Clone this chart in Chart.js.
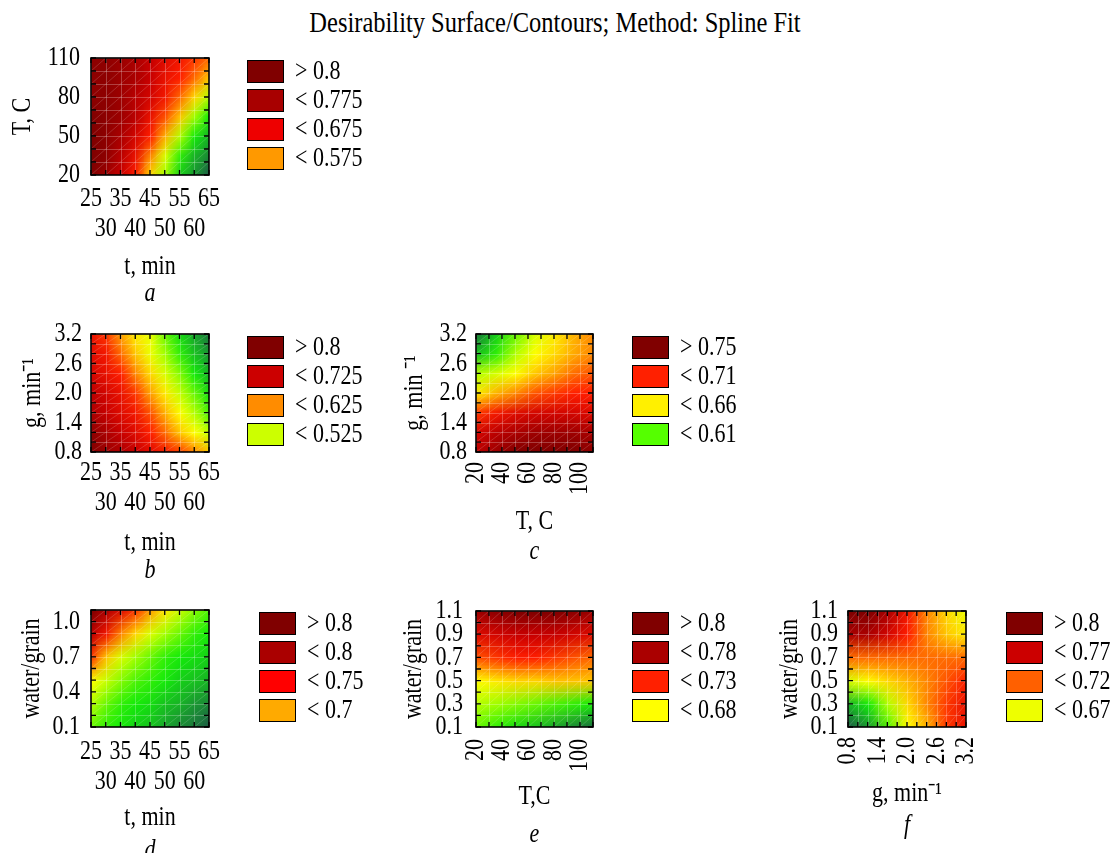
<!DOCTYPE html>
<html>
<head>
<meta charset="utf-8">
<title>Desirability Surface/Contours</title>
<script src="https://cdn.jsdelivr.net/npm/chart.js@4.4.1/dist/chart.umd.min.js"></script>
<style>
  html, body { margin: 0; padding: 0; background: #fff; }
  body { width: 1119px; height: 853px; position: relative; overflow: hidden; font-family: 'Liberation Serif', 'Times New Roman', serif; }
  #title { position: absolute; left: 0; width: 1110px; top: 10px; text-align: center; font-size: 24.5px; line-height: 1; color: #000; transform: scaleY(1.22); }
  canvas { position: absolute; }
</style>
</head>
<body>
<div id="title">Desirability Surface/Contours; Method: Spline Fit</div>
<canvas id="pa"></canvas>
<canvas id="pb"></canvas>
<canvas id="pc"></canvas>
<canvas id="pd"></canvas>
<canvas id="pe"></canvas>
<canvas id="pf"></canvas>
<script>
// grid of factor levels the surfaces were read at
const tMin = [25, 30, 35, 40, 45, 50, 55, 60, 65];
const tempC = [20, 35, 50, 65, 80, 95, 110];
const gRate = [0.8, 1.2, 1.6, 2.0, 2.4, 2.8, 3.2];
const waterGrain = [0.1, 0.3, 0.5, 0.7, 0.9, 1.1];

// desirability, rows from the top of the plot (highest y) down
const surfA = [ // t x T
  [0.79, 0.79, 0.78, 0.77, 0.75, 0.73, 0.71, 0.69, 0.67],
  [0.79, 0.79, 0.78, 0.77, 0.75, 0.72, 0.70, 0.67, 0.63],
  [0.79, 0.79, 0.78, 0.76, 0.74, 0.71, 0.67, 0.62, 0.56],
  [0.80, 0.79, 0.78, 0.76, 0.72, 0.68, 0.63, 0.55, 0.50],
  [0.80, 0.79, 0.77, 0.74, 0.70, 0.64, 0.56, 0.50, 0.46],
  [0.80, 0.79, 0.76, 0.72, 0.66, 0.58, 0.51, 0.46, 0.43],
  [0.80, 0.78, 0.75, 0.70, 0.62, 0.55, 0.48, 0.44, 0.40]
];
const surfB = [ // t x g
  [0.72, 0.69, 0.65, 0.61, 0.59, 0.53, 0.49, 0.45, 0.42],
  [0.73, 0.71, 0.67, 0.63, 0.59, 0.55, 0.51, 0.47, 0.44],
  [0.74, 0.72, 0.70, 0.66, 0.62, 0.58, 0.54, 0.50, 0.46],
  [0.76, 0.74, 0.72, 0.69, 0.65, 0.61, 0.57, 0.53, 0.49],
  [0.77, 0.75, 0.73, 0.71, 0.68, 0.64, 0.60, 0.56, 0.52],
  [0.79, 0.77, 0.75, 0.73, 0.70, 0.67, 0.63, 0.60, 0.57],
  [0.80, 0.78, 0.77, 0.75, 0.73, 0.71, 0.69, 0.66, 0.63]
];
const surfC = [ // T x g
  [0.42, 0.48, 0.53, 0.58, 0.61, 0.64, 0.66],
  [0.47, 0.51, 0.56, 0.60, 0.62, 0.645, 0.66],
  [0.56, 0.58, 0.60, 0.63, 0.65, 0.67, 0.68],
  [0.61, 0.64, 0.66, 0.68, 0.69, 0.70, 0.70],
  [0.69, 0.71, 0.73, 0.74, 0.74, 0.74, 0.73],
  [0.74, 0.76, 0.77, 0.78, 0.78, 0.78, 0.77],
  [0.76, 0.78, 0.80, 0.81, 0.81, 0.80, 0.79]
];
const surfD = [ // t x water/grain
  [0.80, 0.77, 0.73, 0.69, 0.65, 0.61, 0.57, 0.54, 0.52],
  [0.76, 0.71, 0.66, 0.62, 0.58, 0.55, 0.53, 0.51, 0.50],
  [0.69, 0.63, 0.58, 0.55, 0.53, 0.51, 0.50, 0.49, 0.48],
  [0.60, 0.57, 0.54, 0.52, 0.51, 0.50, 0.48, 0.47, 0.46],
  [0.56, 0.53, 0.51, 0.50, 0.49, 0.47, 0.46, 0.44, 0.43],
  [0.53, 0.51, 0.50, 0.48, 0.47, 0.45, 0.43, 0.42, 0.40]
];
const surfE = [ // T x water/grain
  [0.78, 0.79, 0.80, 0.80, 0.80, 0.79, 0.78],
  [0.73, 0.74, 0.75, 0.75, 0.75, 0.74, 0.73],
  [0.68, 0.69, 0.70, 0.70, 0.69, 0.68, 0.67],
  [0.60, 0.61, 0.62, 0.62, 0.63, 0.63, 0.63],
  [0.56, 0.55, 0.54, 0.53, 0.52, 0.51, 0.50],
  [0.53, 0.51, 0.49, 0.47, 0.45, 0.43, 0.41]
];
const surfF = [ // g x water/grain
  [0.81, 0.80, 0.77, 0.71, 0.66, 0.62, 0.59],
  [0.77, 0.77, 0.74, 0.70, 0.66, 0.63, 0.61],
  [0.67, 0.67, 0.67, 0.67, 0.67, 0.67, 0.67],
  [0.58, 0.60, 0.62, 0.64, 0.66, 0.68, 0.70],
  [0.46, 0.50, 0.56, 0.62, 0.66, 0.69, 0.72],
  [0.40, 0.44, 0.52, 0.60, 0.64, 0.69, 0.72]
];

// tick labels
const tTicks = ['25', '30', '35', '40', '45', '50', '55', '60', '65'];
const tempTicksY = ['20', '50', '80', '110'];
const tempTicksX = ['20', '40', '60', '80', '100'];
const gTicks = ['0.8', '1.4', '2.0', '2.6', '3.2'];
const wgTicks4 = ['0.1', '0.4', '0.7', '1.0'];
const wgTicks6 = ['0.1', '0.3', '0.5', '0.7', '0.9', '1.1'];

// legend levels
const legendA = ['> 0.8', '< 0.775', '< 0.675', '< 0.575'];
const legendB = ['> 0.8', '< 0.725', '< 0.625', '< 0.525'];
const legendC = ['> 0.75', '< 0.71', '< 0.66', '< 0.61'];
const legendD = ['> 0.8', '< 0.8', '< 0.75', '< 0.7'];
const legendE = ['> 0.8', '< 0.78', '< 0.73', '< 0.68'];
const legendF = ['> 0.8', '< 0.77', '< 0.72', '< 0.67'];

const SERIF = "'Liberation Serif', 'Times New Roman', Times, serif";
Chart.defaults.font.family = SERIF;
Chart.defaults.font.size = 22;
Chart.defaults.color = '#000';

// the original uses a tall narrow serif, fake it by stretching glyphs vertically
const TEXT_STRETCH = 1.25;

// colour ramp, desirability -> rgb
const RAMP = [
  [0.40, [30, 90, 70]],
  [0.45, [25, 165, 45]],
  [0.50, [20, 235, 10]],
  [0.55, [160, 255, 0]],
  [0.60, [255, 255, 0]],
  [0.65, [255, 160, 0]],
  [0.70, [255, 30, 0]],
  [0.75, [200, 0, 0]],
  [0.80, [128, 0, 0]]
];
function rampColor(v) {
  if (v <= RAMP[0][0]) return RAMP[0][1];
  for (let i = 1; i < RAMP.length; i++) {
    if (v <= RAMP[i][0]) {
      const [v0, c0] = RAMP[i - 1], [v1, c1] = RAMP[i];
      const f = (v - v0) / (v1 - v0);
      return c0.map((c, k) => Math.round(c + (c1[k] - c) * f));
    }
  }
  return RAMP[RAMP.length - 1][1];
}

const panels = [
  { id: 'pa', xs: tMin, ys: tempC, grid: surfA, xTicks: tTicks, yTicks: tempTicksY,
    xTitle: 't, min', yTitle: 'T, C', letter: 'a', legend: legendA,
    colors: ['#800000', '#a80000', '#ee0000', '#ff9900'],
    box: [91, 58, 209, 175], canvasLeft: 0, legendLeft: 247, legendTop: 60, stagger: true,
    xMinor: 5, yMinor: 10, xTickPad: 9.5, yTickPad: 11, yTitlePad: 9.4, xTitleY: 267, letterY: 293 },
  { id: 'pb', xs: tMin, ys: gRate, grid: surfB, xTicks: tTicks, yTicks: gTicks,
    xTitle: 't, min', yTitle: 'g, min\u207B\u00B9', letter: 'b', legend: legendB,
    colors: ['#800000', '#cc0000', '#ff8c00', '#ccff00'],
    box: [91, 334, 209, 452], canvasLeft: 0, legendLeft: 247, legendTop: 336, stagger: true,
    xMinor: 5, yMinor: 0.2, xTickPad: 6.5, yTickPad: 9, yTitlePad: 19.4, xTitleY: 543, letterY: 571 },
  { id: 'pc', xs: tempC, ys: gRate, grid: surfC, xTicks: tempTicksX, yTicks: gTicks,
    xTitle: 'T, C', yTitle: 'g, min \u207B\u00B9', letter: 'c', legend: legendC,
    colors: ['#800000', '#ff2000', '#fff000', '#55ff00'],
    box: [476, 334, 593, 452], canvasLeft: 380, legendLeft: 632, legendTop: 336, rotateX: true,
    xMinor: 10, yMinor: 0.2, xTickPad: 10, yTickPad: 9, yTitlePad: 22, xTitleY: 522, letterY: 552 },
  { id: 'pd', xs: tMin, ys: waterGrain, grid: surfD, xTicks: tTicks, yTicks: wgTicks4,
    xTitle: 't, min', yTitle: 'water/grain', letter: 'd', legend: legendD,
    colors: ['#800000', '#aa0000', '#ff0000', '#ffaa00'],
    box: [91, 610, 209, 727], canvasLeft: 0, legendLeft: 259, legendTop: 612, stagger: true,
    xMinor: 5, yMinor: 0.1, xTickPad: 10.5, yTickPad: 11, yTitlePad: 18.7, xTitleY: 818, letterY: 851 },
  { id: 'pe', xs: tempC, ys: waterGrain, grid: surfE, xTicks: tempTicksX, yTicks: wgTicks6,
    xTitle: 'T,C', yTitle: 'water/grain', letter: 'e', legend: legendE,
    colors: ['#800000', '#aa0000', '#ff2000', '#ffff00'],
    box: [476, 611, 593, 727], canvasLeft: 380, legendLeft: 632, legendTop: 612, rotateX: true,
    xMinor: 10, yMinor: 0.1, xTickPad: 12, yTickPad: 13, yTitlePad: 21, xTitleY: 797, letterY: 835 },
  { id: 'pf', xs: gRate, ys: waterGrain, grid: surfF, xTicks: gTicks, yTicks: wgTicks6,
    xTitle: 'g, min\u207B\u00B9', yTitle: 'water/grain', letter: 'f', legend: legendF,
    colors: ['#800000', '#cc0000', '#ff6000', '#eeff00'],
    box: [848, 611, 966, 727], canvasLeft: 760, legendLeft: 1006, legendTop: 612, rotateX: true,
    xMinor: 0.2, yMinor: 0.1, xTickPad: 10, yTickPad: 10, yTitlePad: 17, xTitleY: 794, letterY: 826 }
];

function steps(min, max, step) {
  const out = [];
  for (let k = 0; min + k * step <= max + 1e-9; k++) out.push(min + k * step);
  return out;
}

// paints the surface grid, the inner frame / tick marks and the level legend
function surfacePlugin(p, canvasTop) {
  return {
    id: 'surface',
    beforeDatasetsDraw(chart) {
      const { ctx, chartArea: a, scales: { x, y } } = chart;
      const nx = p.xs.length, ny = p.ys.length;
      const off = document.createElement('canvas');
      off.width = nx;
      off.height = ny;
      const octx = off.getContext('2d');
      const img = octx.createImageData(nx, ny);
      for (let j = 0; j < ny; j++) {
        for (let i = 0; i < nx; i++) {
          const c = rampColor(p.grid[j][i]);
          const k = (j * nx + i) * 4;
          img.data[k] = c[0]; img.data[k + 1] = c[1]; img.data[k + 2] = c[2]; img.data[k + 3] = 255;
        }
      }
      octx.putImageData(img, 0, 0);
      const x0 = x.getPixelForValue(p.xs[0]);
      const x1 = x.getPixelForValue(p.xs[nx - 1]);
      const yTop = y.getPixelForValue(p.ys[ny - 1]);
      const yBot = y.getPixelForValue(p.ys[0]);
      const cw = (x1 - x0) / (nx - 1), ch = (yBot - yTop) / (ny - 1);
      ctx.save();
      ctx.beginPath();
      ctx.rect(a.left, a.top, a.width, a.height);
      ctx.clip();
      ctx.imageSmoothingEnabled = true;
      ctx.drawImage(off, x0 - cw / 2, yTop - ch / 2, cw * nx, ch * ny);
      // faint mesh like the original surface plot
      const xs = steps(x.min, x.max, p.xMinor).map(v => x.getPixelForValue(v));
      const ys = steps(y.min, y.max, p.yMinor).map(v => y.getPixelForValue(v));
      ctx.strokeStyle = 'rgba(255,255,255,0.25)';
      ctx.lineWidth = 1;
      ctx.beginPath();
      xs.forEach(px => { const q = Math.round(px) + 0.5; ctx.moveTo(q, a.top); ctx.lineTo(q, a.bottom); });
      ys.forEach(py => { const q = Math.round(py) + 0.5; ctx.moveTo(a.left, q); ctx.lineTo(a.right, q); });
      ctx.stroke();
      ctx.strokeStyle = 'rgba(255,255,255,0.16)';
      ctx.beginPath();
      for (let i = 0; i < xs.length - 1; i++) {
        for (let j = 0; j < ys.length - 1; j++) {
          ctx.moveTo(xs[i], ys[j]);
          ctx.lineTo(xs[i + 1], ys[j + 1]);
        }
      }
      ctx.stroke();
      ctx.restore();
    },
    afterDatasetsDraw(chart) {
      const { ctx, chartArea: a, scales: { x, y } } = chart;
      const len = 5;
      ctx.save();
      ctx.strokeStyle = '#000';
      ctx.lineWidth = 1.3;
      ctx.beginPath();
      steps(x.min, x.max, p.xMinor).forEach(v => {
        const px = x.getPixelForValue(v);
        ctx.moveTo(px, a.bottom); ctx.lineTo(px, a.bottom - len);
        ctx.moveTo(px, a.top); ctx.lineTo(px, a.top + len);
      });
      steps(y.min, y.max, p.yMinor).forEach(v => {
        const py = y.getPixelForValue(v);
        ctx.moveTo(a.left, py); ctx.lineTo(a.left + len, py);
        ctx.moveTo(a.right, py); ctx.lineTo(a.right - len, py);
      });
      ctx.stroke();
      ctx.lineWidth = 1.6;
      ctx.strokeRect(a.left, a.top, a.width, a.height);
      ctx.restore();
    },
    afterDraw(chart) {
      // legend: four level boxes to the right of the plot
      const ctx = chart.ctx;
      const bx = p.legendLeft - p.canvasLeft;
      ctx.save();
      ctx.font = '22px ' + SERIF;
      ctx.textBaseline = 'middle';
      ctx.textAlign = 'left';
      p.legend.forEach((txt, i) => {
        const by = p.legendTop - canvasTop + i * 29;
        ctx.fillStyle = p.colors[i];
        ctx.fillRect(bx, by, 37, 23);
        ctx.strokeStyle = '#000';
        ctx.lineWidth = 1;
        ctx.strokeRect(bx + 0.5, by + 0.5, 36, 22);
        ctx.fillStyle = '#000';
        ctx.fillText(txt, bx + 48, by + 12);
      });
      ctx.restore();
    }
  };
}

const PAD_TOP = 30;
const PAD_RIGHT = 180;
const LH = 22 * 1.2;

panels.forEach(p => {
  const [L, T, R, B] = p.box;
  const yW = L - p.canvasLeft;
  const xH = p.xTitleY - B + LH / 2;
  const letterPad = Math.max(0, p.letterY - p.xTitleY - LH);
  const need = PAD_TOP + (B - T) + xH + letterPad + LH;
  const H = Math.ceil(need) + 2;
  const W = Math.round(R - p.canvasLeft + PAD_RIGHT);
  const canvasTop = T - PAD_TOP;

  const canvas = document.getElementById(p.id);
  canvas.width = W;
  canvas.height = H;
  canvas.style.width = W + 'px';
  canvas.style.height = H + 'px';
  canvas.style.left = p.canvasLeft + 'px';
  canvas.style.top = canvasTop + 'px';

  const ctx = canvas.getContext('2d');
  const rawFill = ctx.fillText;
  ctx.fillText = function (text, x, y, maxWidth) {
    this.save();
    this.translate(x, y);
    this.scale(1, TEXT_STRETCH);
    if (maxWidth === undefined) rawFill.call(this, text, 0, 0);
    else rawFill.call(this, text, 0, 0, maxWidth);
    this.restore();
  };

  const points = [];
  p.ys.forEach((yv, j) => p.xs.forEach((xv, i) => {
    points.push({ x: xv, y: yv, v: p.grid[p.ys.length - 1 - j][i] });
  }));

  new Chart(canvas, {
    type: 'scatter',
    data: { datasets: [{ label: 'desirability', data: points, pointRadius: 0, pointHoverRadius: 0 }] },
    options: {
      responsive: false,
      animation: false,
      events: [],
      layout: { padding: { left: 0, top: PAD_TOP, right: PAD_RIGHT, bottom: H - need } },
      scales: {
        x: {
          type: 'linear',
          min: p.xs[0],
          max: p.xs[p.xs.length - 1],
          afterBuildTicks: s => { s.ticks = p.xTicks.map(t => ({ value: Number(t) })); },
          afterFit: s => { s.height = xH; },
          ticks: {
            autoSkip: false,
            padding: p.xTickPad,
            color: '#000',
            maxRotation: p.rotateX ? 90 : 0,
            minRotation: p.rotateX ? 90 : 0,
            font: { size: 22, lineHeight: p.stagger ? 1.34 : 1.2 },
            callback: (v, i) => p.stagger ? (i % 2 === 0 ? [p.xTicks[i], ''] : ['', p.xTicks[i]]) : p.xTicks[i]
          },
          grid: { display: false, drawTicks: false },
          border: { display: false },
          title: { display: true, text: p.xTitle, color: '#000', font: { size: 22, lineHeight: 1.2 }, padding: { top: 0, bottom: 0 } }
        },
        y: {
          type: 'linear',
          min: p.ys[0],
          max: p.ys[p.ys.length - 1],
          afterBuildTicks: s => { s.ticks = p.yTicks.map(t => ({ value: Number(t) })); },
          afterFit: s => { s.width = yW; },
          ticks: {
            autoSkip: false,
            padding: p.yTickPad,
            color: '#000',
            font: { size: 22, lineHeight: 1.2 },
            callback: (v, i) => p.yTicks[i]
          },
          grid: { display: false, drawTicks: false },
          border: { display: false },
          title: { display: true, text: p.yTitle, color: '#000', font: { size: 22, lineHeight: 1.2 }, padding: { top: p.yTitlePad, bottom: 0 } }
        }
      },
      plugins: {
        legend: { display: false },
        title: {
          display: true,
          position: 'bottom',
          fullSize: false,
          text: p.letter,
          color: '#000',
          font: { size: 22, style: 'italic', weight: 'normal', lineHeight: 1.2 },
          padding: { top: letterPad, bottom: 0 }
        },
        tooltip: { enabled: false }
      }
    },
    plugins: [surfacePlugin(p, canvasTop)]
  });
});
</script>
</body>
</html>
